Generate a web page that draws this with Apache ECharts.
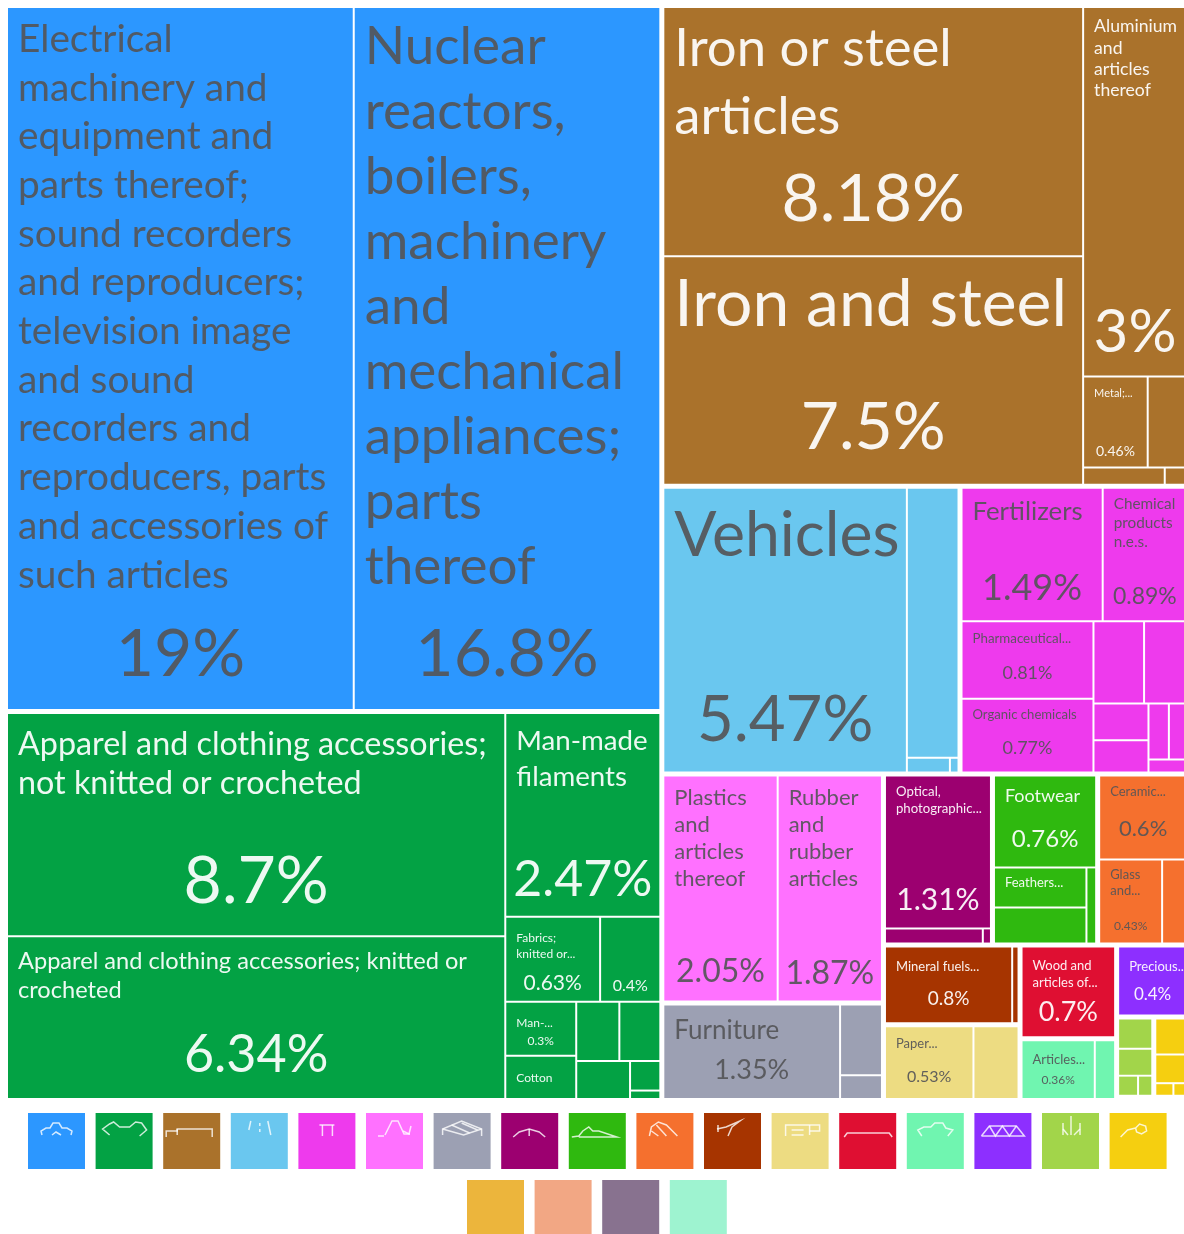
<!DOCTYPE html>
<html>
<head>
<meta charset="utf-8">
<style>
  html, body { margin: 0; padding: 0; background: #fff; overflow: hidden; }
  #chart { width: 1184px; height: 1234px; }
</style>
<script src="https://cdn.jsdelivr.net/npm/echarts@6/dist/echarts.min.js"></script>
</head>
<body>
<div id="chart"></div>
<script>
const sections = ["Machines", "Textiles", "Metals", "Transportation", "Chemical Products", "Plastics and Rubbers", "Miscellaneous", "Instruments", "Footwear and Headwear", "Stone and Glass", "Mineral Products", "Paper Goods", "Wood Products", "Animal Hides", "Precious Metals", "Vegetable Products", "Foodstuffs", "Animal Products", "Weapons", "Arts and Antiques", "Animal and Vegetable Bi-Products"];
const sectionColors = ["#2c97ff", "#03a244", "#aa722b", "#6ac7ef", "#ee3aed", "#ff71ff", "#9ca0b3", "#9c0070", "#2fb90f", "#f5702e", "#a63400", "#eddc82", "#df0f32", "#70f5b0", "#8d2fff", "#a2d54a", "#f5cf10", "#ecb53c", "#f2a784", "#88728f", "#9ef3d0"];
const lightText = [1, 2, 7, 8, 10, 12, 14];

const tileNames = [
  ["Electrical\nmachinery and\nequipment and\nparts thereof;\nsound recorders\nand reproducers;\ntelevision image\nand sound\nrecorders and\nreproducers, parts\nand accessories of\nsuch articles", "Nuclear\nreactors,\nboilers,\nmachinery\nand\nmechanical\nappliances;\nparts\nthereof"],
  ["Apparel and clothing accessories;\nnot knitted or crocheted", "Apparel and clothing accessories; knitted or\ncrocheted", "Man-made\nfilaments", "Fabrics;\nknitted or...", "", "Man-...", "Cotton", "", "", "", "", ""],
  ["Iron or steel\narticles", "Iron and steel", "Aluminium\nand\narticles\nthereof", "Metal;...", "", "", ""],
  ["Vehicles", "", "", ""],
  ["Fertilizers", "Chemical\nproducts\nn.e.s.", "Pharmaceutical...", "Organic chemicals", "", "", "", "", "", "", ""],
  ["Plastics\nand\narticles\nthereof", "Rubber\nand\nrubber\narticles"],
  ["Furniture", "", ""],
  ["Optical,\nphotographic...", "", ""],
  ["Footwear", "Feathers...", "", ""],
  ["Ceramic...", "Glass\nand...", ""],
  ["Mineral fuels...", ""],
  ["Paper...", ""],
  ["Wood and\narticles of..."],
  ["Articles...", ""],
  ["Precious..."],
  ["", "", "", ""],
  ["", "", "", ""],
  [""], [""], [""], [""]
];
const tileValues = [
  [19, 16.8],
  [8.7, 6.34, 2.47, 0.63, 0.4, 0.3, 0.24, 0.2, 0.19, 0.16, 0.07, 0.02],
  [8.18, 7.5, 3, 0.46, 0.28, 0.11, 0.03],
  [5.47, 1.1, 0.05, 0.01],
  [1.49, 0.89, 0.81, 0.77, 0.33, 0.28, 0.16, 0.14, 0.09, 0.08, 0.04],
  [2.05, 1.87],
  [1.35, 0.24, 0.08],
  [1.31, 0.12, 0.01],
  [0.76, 0.3, 0.27, 0.06],
  [0.6, 0.43, 0.17],
  [0.8, 0.04],
  [0.53, 0.27],
  [0.7],
  [0.36, 0.1],
  [0.4],
  [0.09, 0.08, 0.035, 0.025],
  [0.1, 0.08, 0.02, 0.015],
  [0.006], [0.005], [0.004], [0.003]
];
// which tiles print their percentage
const pctShown = [
  [1, 1],
  [1, 1, 1, 1, 1, 1],
  [1, 1, 1, 1],
  [1],
  [1, 1, 1, 1],
  [1, 1],
  [1],
  [1],
  [1],
  [1, 1],
  [1],
  [1],
  [1],
  [1],
  [1]
];
// [name font, line height, percent font, percent centre y inside tile, top inset]
const tileStyles = [
  [[38.8, 48.7, 66, 647, 7], [53, 65, 66, 647, 6]],
  [[32.3, 39, 66, 168, 11], [23.6, 29, 52, 118, 10], [27.7, 36, 50, 166, 9], [12, 16, 21, 65, 12], [12, 16, 16, 68, 12], [12, 16, 12, 38, 12], [12, 16, 12, 0, 13]],
  [[52.7, 68, 66, 192, 7], [66, 86, 66, 170, 4], [17.6, 21.3, 60, 325, 8], [11, 14, 14, 74, 9]],
  [[62.5, 78, 63.5, 232, 8]],
  [[25.8, 35, 36, 100, 5], [15.3, 19, 23, 108, 6], [13.3, 16, 18, 51, 9], [13.1, 16, 18, 48, 7]],
  [[22, 27, 32, 195, 8], [22, 27, 32, 197, 8]],
  [[26, 34, 27, 65, 8]],
  [[13.2, 17, 30, 124, 7]],
  [[18, 23, 24, 63, 8], [13, 16, 12, 0, 6]],
  [[13, 16, 22, 52, 7], [13, 16, 12, 66, 6]],
  [[13, 16, 19, 51, 11]],
  [[13, 16, 16, 50, 9]],
  [[13, 17, 27, 65, 10]],
  [[13, 16, 12, 39, 10]],
  [[13, 16, 17, 47, 11]]
];

// little white glyphs on the first legend row, one list of strokes per square
const legendGlyphs = [
  [[[14,22],[13,18],[18,15],[22,15],[25,10],[31,10],[34,15],[39,15],[44,18],[43,22]], [[24,22],[28,19],[33,22]]],
  [[[14,22],[7,16],[14,11],[18,9],[24,14],[34,14],[40,9],[46,10],[51,17],[44,23]]],
  [[[3,24],[3,18],[14,18],[14,16],[49,16],[49,24]], [[14,16],[14,22]]],
  [[[20,8],[18,17]], [[29,10],[29,13]], [[29,16],[29,19]], [[37,8],[40,22]]],
  [[[21,12],[36,12]], [[24,12],[24,23]], [[34,12],[34,23]]],
  [[[19,22],[26,8],[32,8],[38,21],[44,21]], [[45,13],[43,21],[37,18]], [[12,23],[18,23]]],
  [[[9,22],[9,16],[28,8],[48,16],[48,23]], [[9,16],[30,22],[48,16]], [[18,12],[36,20]], [[28,10],[44,17]]],
  [[[12,24],[18,19],[28,16],[38,19],[44,24]], [[28,16],[28,23]]],
  [[[3,24],[10,23],[14,18],[20,14],[24,18],[30,18],[48,24],[10,24]]],
  [[[13,23],[15,14],[22,9],[30,12],[41,23]], [[20,12],[30,23]], [[15,18],[22,23]]],
  [[[13,16],[22,14],[36,8],[28,14],[24,23]], [[14,12],[14,19]]],
  [[[14,23],[14,12],[48,12],[48,18],[38,18]], [[20,17],[32,17]], [[20,22],[32,22]], [[38,12],[38,22]]],
  [[[5,24],[8,20],[50,20],[53,24]]],
  [[[15,23],[11,17],[17,14],[24,14],[28,10],[36,10],[39,15],[46,17],[41,23]]],
  [[[7,23],[15,13],[42,13],[50,23],[7,23]], [[15,13],[21,23],[28,13],[35,23],[42,13]]],
  [[[21,10],[21,22]], [[29,3],[29,22]], [[38,10],[38,22]], [[21,16],[26,22]], [[38,16],[32,22]]],
  [[[11,24],[18,17],[26,15]], [[26,15],[30,11],[36,13],[37,18],[32,21],[27,19],[26,15]]]
];

const DARK = "rgba(85,85,88,0.92)";
const LIGHT = "rgba(255,255,255,0.93)";

const buildLabel = (g, t) => {
  const style = tileStyles[g] && tileStyles[g][t];
  if (!style) return { show: false };
  const [nameFont, lineH, pctFont, pctY, topInset] = style;
  const lines = tileNames[g][t] ? tileNames[g][t].split("\n") : [];
  const showPct = pctShown[g] && pctShown[g][t];
  const pctH = pctFont * 1.2;
  const gap = Math.max(pctY - topInset - lines.length * lineH - pctH / 2, 1);
  const rows = lines.map(l => `{n|${l}}`);
  if (showPct) {
    rows.push("{s| }");
    rows.push(`{p|${tileValues[g][t]}%}`);
  }
  const color = lightText.includes(g) ? LIGHT : DARK;
  return {
    show: true,
    position: "insideTopLeft",
    distance: 0,
    padding: [topInset, 10, 0, 10],
    overflow: "none",
    formatter: rows.join("\n"),
    rich: {
      n: { fontSize: nameFont, lineHeight: lineH, color },
      s: { fontSize: 1, lineHeight: gap },
      p: { fontSize: pctFont, lineHeight: pctH, color, align: "center" }
    }
  };
};

const treeData = sections.map((name, g) => ({
  name,
  itemStyle: { color: sectionColors[g] },
  children: tileValues[g].map((value, t) => ({
    name: tileNames[g][t] || name + " " + t,
    value,
    itemStyle: { color: sectionColors[g] },
    label: buildLabel(g, t)
  }))
}));

const chart = echarts.init(document.getElementById("chart"));

const legendBase = {
  icon: "rect",
  itemWidth: 57,
  itemHeight: 56,
  itemGap: 10.6,
  padding: 0,
  selectedMode: false,
  formatter: () => ""
};

const glyphs = legendGlyphs.map((strokes, i) => ({
  type: "group",
  x: 28 + i * 67.6,
  y: 1113,
  silent: true,
  children: strokes.map(points => ({
    type: "polyline",
    z: 100,
    shape: { points },
    style: { stroke: "rgba(255,255,255,0.8)", lineWidth: 1.5, fill: null }
  }))
}));

chart.setOption({
  animation: false,
  textStyle: { fontFamily: "Lato, 'Noto Sans', sans-serif" },
  legend: [
    { ...legendBase, left: 28, top: 1113, data: sections.slice(0, 17) },
    { ...legendBase, left: 467, top: 1180, data: sections.slice(17) }
  ],
  graphic: { elements: glyphs },
  series: [
    {
      type: "treemap",
      left: 8,
      top: 8,
      width: 1178,
      height: 1090,
      roam: false,
      nodeClick: false,
      silent: true,
      visibleMin: 0,
      breadcrumb: { show: false },
      levels: [
        { itemStyle: { gapWidth: 5, borderWidth: 0 } },
        { itemStyle: { gapWidth: 2, borderWidth: 0, borderColor: "#fff" } },
        { itemStyle: { gapWidth: 0, borderWidth: 0 } }
      ],
      data: treeData
    },
    {
      type: "pie",
      radius: [0, 0],
      center: [0, 0],
      silent: true,
      label: { show: false },
      labelLine: { show: false },
      data: sections.map((name, g) => ({ name, value: 1, itemStyle: { color: sectionColors[g] } }))
    }
  ]
});
</script>
</body>
</html>
